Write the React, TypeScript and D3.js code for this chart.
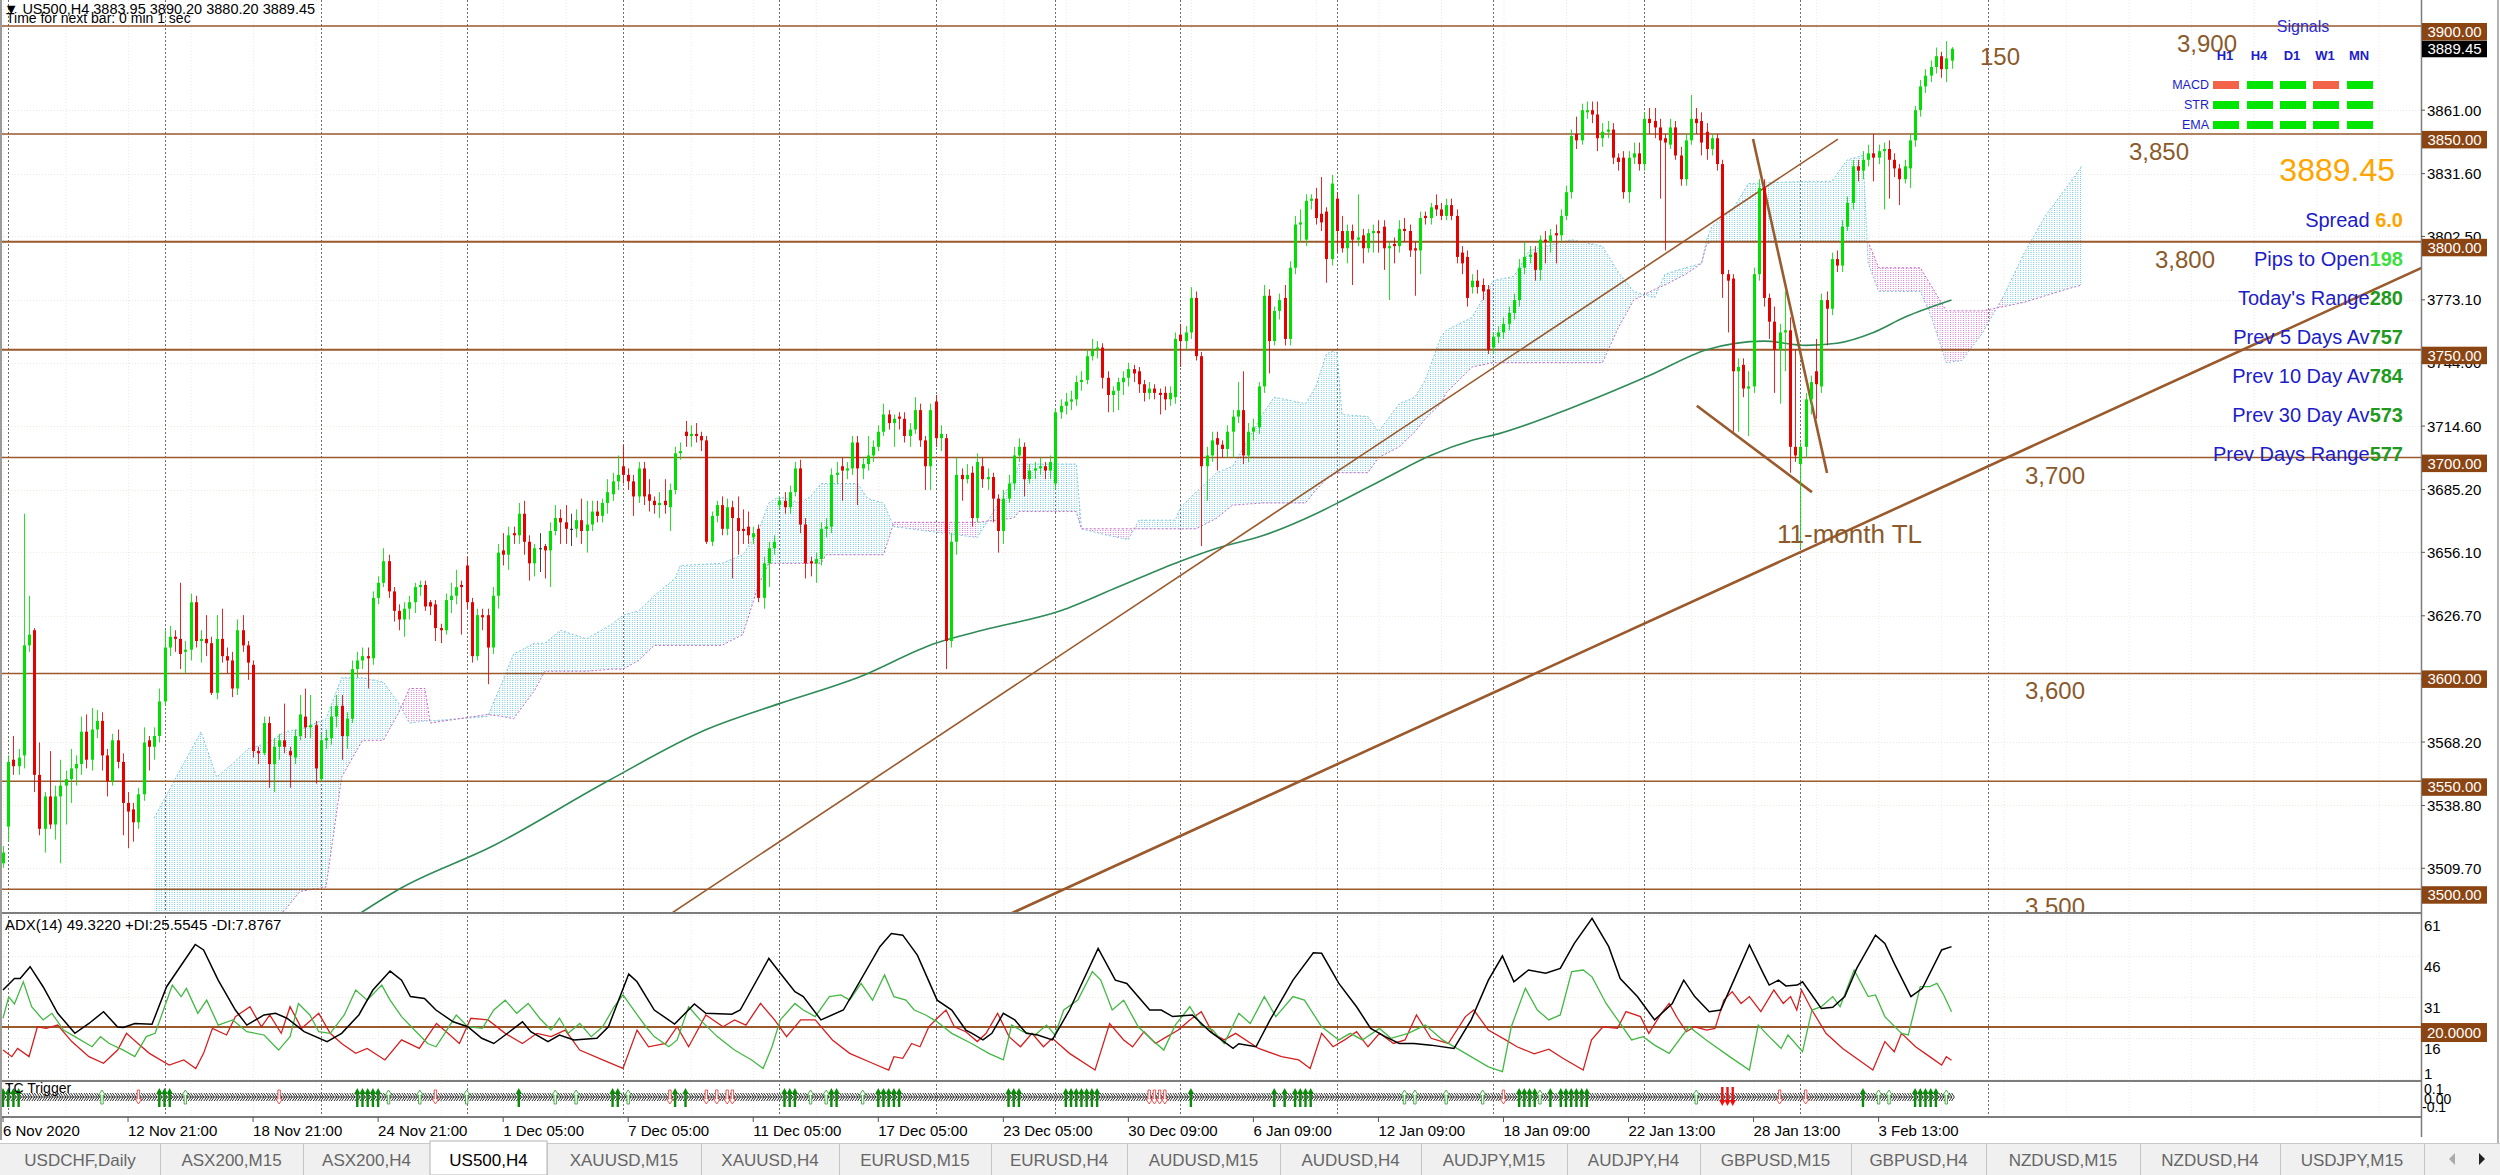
import React from 'react';
import * as d3 from 'd3';

// ---------- DATA ----------
// H4 candles of US500: [open, high, low, close]
const ohlc: number[][] = [
[3512,3520,3510,3517],[3529,3562,3522,3559],[3560,3571,3553,3557],[3557,3565,3553,3561],[3562,3674,3556,3613],
[3613,3636,3610,3618],[3620,3621,3545,3553],[3553,3568,3525,3528],[3528,3545,3517,3543],[3543,3564,3528,3530],
[3530,3548,3523,3543],[3543,3560,3512,3548],[3548,3555,3530,3551],[3551,3565,3540,3556],[3556,3562,3548,3558],
[3558,3580,3553,3573],[3573,3581,3556,3560],[3560,3584,3555,3574],[3574,3583,3570,3578],[3578,3582,3555,3562],
[3562,3565,3543,3550],[3550,3572,3548,3569],[3569,3574,3556,3559],[3559,3563,3525,3540],[3540,3545,3519,3536],
[3537,3540,3522,3531],[3531,3547,3528,3544],[3544,3575,3541,3568],[3569,3571,3555,3566],[3566,3575,3560,3571],
[3571,3593,3568,3587],[3587,3620,3585,3612],[3612,3622,3608,3617],[3617,3620,3610,3616],[3616,3642,3602,3609],
[3610,3615,3600,3611],[3611,3637,3606,3633],[3633,3636,3612,3615],[3615,3620,3605,3616],[3616,3627,3608,3614],
[3614,3617,3590,3591],[3591,3627,3588,3616],[3616,3630,3605,3608],[3608,3612,3600,3606],[3606,3610,3589,3593],
[3593,3625,3590,3620],[3620,3627,3610,3613],[3613,3615,3597,3605],[3604,3606,3561,3564],[3564,3566,3558,3563],
[3563,3580,3562,3577],[3577,3580,3547,3558],[3558,3570,3545,3566],[3566,3572,3560,3569],[3569,3586,3563,3566],
[3564,3566,3547,3562],[3561,3574,3558,3571],[3571,3590,3569,3581],[3580,3593,3570,3575],[3575,3590,3570,3576],
[3576,3578,3549,3556],[3551,3572,3550,3569],[3569,3574,3565,3570],[3570,3585,3567,3580],[3580,3590,3575,3585],
[3585,3590,3560,3571],[3571,3582,3565,3579],[3579,3606,3577,3602],[3602,3610,3598,3606],[3606,3612,3602,3608],
[3608,3612,3593,3607],[3607,3638,3604,3635],[3635,3645,3632,3642],[3642,3658,3640,3652],[3652,3655,3635,3638],
[3638,3640,3624,3629],[3629,3632,3620,3625],[3625,3633,3617,3630],[3630,3636,3625,3633],[3633,3642,3628,3640],
[3640,3643,3636,3641],[3641,3643,3629,3631],[3633,3634,3627,3631],[3632,3634,3615,3621],[3621,3623,3614,3620],
[3620,3637,3618,3634],[3634,3642,3628,3636],[3636,3648,3632,3640],[3641,3643,3618,3640],[3650,3654,3630,3633],
[3633,3635,3605,3608],[3608,3630,3606,3627],[3627,3630,3620,3626],[3627,3630,3595,3612],[3612,3640,3609,3636],
[3636,3660,3630,3656],[3657,3665,3650,3655],[3655,3668,3648,3664],[3665,3668,3660,3664],[3664,3679,3660,3674],
[3674,3680,3655,3661],[3661,3664,3643,3651],[3651,3660,3645,3658],[3658,3665,3647,3658],[3659,3660,3644,3657],
[3657,3670,3640,3666],[3666,3678,3664,3672],[3672,3676,3660,3670],[3670,3678,3660,3667],[3667,3674,3659,3667],
[3667,3676,3663,3671],[3671,3681,3660,3666],[3666,3680,3656,3669],[3669,3680,3666,3675],[3675,3680,3670,3673],
[3673,3681,3670,3679],[3679,3690,3674,3684],[3683,3693,3680,3689],[3689,3701,3685,3692],[3696,3706,3688,3692],
[3692,3695,3685,3689],[3689,3692,3673,3682],[3682,3698,3679,3695],[3695,3698,3678,3682],[3683,3690,3675,3680],
[3680,3682,3674,3678],[3678,3684,3672,3679],[3680,3690,3674,3678],[3677,3688,3666,3685],[3685,3705,3683,3702],
[3702,3707,3699,3703],[3712,3717,3705,3710],[3710,3715,3705,3711],[3711,3716,3707,3710],[3710,3712,3703,3708],
[3708,3710,3660,3661],[3661,3675,3659,3673],[3673,3680,3670,3678],[3678,3682,3664,3667],[3667,3681,3664,3677],
[3677,3680,3644,3672],[3672,3682,3655,3666],[3667,3676,3660,3666],[3668,3675,3660,3664],[3663,3668,3660,3665],
[3667,3669,3633,3635],[3635,3654,3630,3651],[3651,3661,3640,3658],[3658,3664,3655,3661],[3678,3682,3676,3680],
[3680,3684,3674,3677],[3677,3687,3674,3684],[3684,3698,3682,3695],[3695,3699,3665,3669],[3669,3672,3644,3651],
[3652,3654,3645,3651],[3651,3656,3642,3653],[3653,3670,3650,3667],[3667,3672,3663,3668],[3668,3695,3665,3692],
[3692,3698,3688,3693],[3696,3700,3680,3694],[3694,3698,3690,3695],[3695,3710,3692,3707],[3707,3710,3678,3695],
[3695,3700,3690,3697],[3697,3710,3694,3701],[3701,3708,3698,3705],[3705,3715,3703,3712],[3712,3725,3710,3720],
[3720,3722,3713,3716],[3716,3720,3705,3718],[3719,3721,3713,3718],[3718,3721,3707,3710],[3710,3716,3705,3713],
[3713,3728,3711,3722],[3722,3725,3705,3708],[3708,3710,3685,3696],[3696,3725,3685,3722],[3726,3729,3705,3709],
[3709,3715,3703,3711],[3709,3711,3602,3615],[3615,3665,3612,3661],[3661,3700,3655,3692],[3692,3695,3680,3690],
[3690,3697,3688,3692],[3693,3696,3668,3672],[3672,3702,3670,3698],[3696,3700,3686,3690],[3690,3695,3685,3691],
[3691,3693,3670,3681],[3681,3683,3656,3666],[3666,3685,3660,3681],[3681,3692,3679,3688],[3688,3705,3685,3701],
[3701,3709,3698,3705],[3705,3707,3682,3690],[3690,3697,3688,3694],[3694,3698,3690,3695],[3695,3700,3692,3696],
[3696,3698,3690,3694],[3694,3701,3690,3698],[3688,3723,3685,3721],[3721,3727,3718,3724],[3724,3730,3720,3726],
[3726,3731,3722,3727],[3727,3738,3724,3735],[3735,3740,3731,3736],[3736,3750,3734,3747],[3747,3755,3745,3750],
[3750,3754,3746,3751],[3751,3753,3732,3737],[3737,3740,3721,3729],[3729,3733,3721,3731],[3731,3737,3722,3735],
[3735,3740,3729,3737],[3737,3744,3733,3741],[3741,3743,3735,3739],[3740,3742,3730,3734],[3734,3736,3726,3730],
[3730,3735,3727,3732],[3732,3734,3727,3730],[3730,3732,3720,3729],[3730,3733,3722,3727],[3727,3733,3724,3730],
[3728,3758,3725,3755],[3757,3762,3742,3754],[3754,3761,3750,3758],[3758,3779,3755,3774],[3774,3777,3745,3747],
[3747,3749,3659,3696],[3696,3705,3680,3701],[3701,3712,3698,3708],[3709,3712,3694,3706],[3706,3708,3700,3704],
[3704,3715,3700,3712],[3712,3722,3700,3719],[3719,3735,3716,3722],[3722,3740,3697,3701],[3701,3716,3698,3712],
[3712,3718,3708,3714],[3714,3735,3711,3733],[3733,3780,3730,3775],[3775,3778,3739,3754],[3754,3770,3752,3768],
[3768,3776,3764,3773],[3774,3780,3752,3755],[3755,3791,3752,3788],[3788,3812,3785,3808],[3808,3815,3800,3809],
[3801,3822,3798,3819],[3819,3822,3815,3820],[3820,3825,3808,3811],[3813,3830,3805,3809],[3814,3816,3781,3792],
[3792,3831,3789,3827],[3820,3823,3795,3805],[3805,3812,3795,3797],[3797,3808,3790,3805],[3805,3808,3780,3801],
[3801,3822,3798,3802],[3803,3806,3790,3797],[3797,3806,3795,3804],[3804,3808,3795,3805],[3805,3810,3795,3804],
[3807,3810,3787,3797],[3797,3800,3773,3798],[3799,3802,3790,3798],[3798,3810,3795,3806],[3806,3811,3800,3805],
[3805,3808,3793,3796],[3797,3800,3775,3796],[3796,3814,3785,3811],[3812,3814,3808,3811],[3811,3818,3808,3816],
[3817,3822,3812,3815],[3815,3818,3810,3812],[3812,3820,3810,3817],[3817,3820,3810,3812],[3812,3815,3790,3793],
[3795,3798,3785,3790],[3793,3796,3770,3774],[3779,3785,3776,3782],[3782,3787,3776,3779],[3780,3783,3773,3777],
[3778,3780,3748,3750],[3751,3758,3748,3756],[3756,3761,3753,3758],[3758,3765,3755,3762],[3762,3770,3759,3767],
[3767,3776,3764,3773],[3773,3792,3770,3788],[3788,3800,3785,3793],[3793,3798,3790,3794],[3795,3798,3782,3787],
[3787,3803,3782,3801],[3801,3805,3790,3800],[3800,3806,3795,3803],[3804,3808,3790,3803],[3803,3815,3800,3812],
[3812,3826,3810,3823],[3823,3852,3820,3849],[3850,3858,3843,3847],[3847,3864,3845,3861],[3860,3865,3857,3861],
[3861,3865,3855,3859],[3859,3865,3842,3848],[3848,3855,3844,3851],[3851,3856,3848,3852],[3852,3855,3836,3839],
[3839,3841,3833,3837],[3839,3842,3820,3823],[3823,3842,3818,3839],[3839,3846,3836,3841],[3841,3846,3833,3836],
[3836,3860,3833,3857],[3857,3862,3850,3855],[3856,3862,3848,3853],[3853,3857,3820,3847],[3848,3850,3796,3846],
[3845,3857,3843,3853],[3853,3856,3838,3840],[3840,3844,3826,3829],[3829,3850,3826,3847],[3847,3868,3845,3857],
[3857,3862,3850,3855],[3856,3860,3840,3846],[3851,3855,3838,3843],[3843,3850,3840,3848],[3848,3850,3833,3836],
[3836,3838,3774,3785],[3785,3787,3758,3782],[3783,3785,3712,3740],[3740,3746,3712,3742],[3743,3746,3728,3732],
[3732,3740,3710,3733],[3733,3788,3730,3785],[3785,3829,3782,3825],[3825,3829,3770,3774],[3774,3776,3755,3763],
[3763,3770,3730,3750],[3750,3762,3725,3758],[3758,3777,3740,3759],[3759,3765,3693,3705],[3705,3750,3698,3701],
[3697,3707,3658,3705],[3705,3730,3700,3727],[3727,3738,3720,3735],[3740,3755,3718,3734],[3733,3776,3730,3773],
[3773,3777,3752,3769],[3769,3795,3766,3792],[3792,3796,3786,3789],[3789,3810,3786,3807],[3807,3821,3805,3818],
[3818,3838,3815,3835],[3835,3838,3828,3833],[3833,3842,3829,3838],[3838,3845,3835,3841],[3841,3850,3828,3839],
[3839,3845,3836,3842],[3842,3846,3815,3843],[3843,3847,3820,3838],[3838,3841,3830,3834],[3834,3836,3817,3829],
[3829,3838,3827,3835],[3834,3850,3825,3847],[3847,3863,3844,3861],[3861,3875,3858,3872],[3872,3880,3869,3877],
[3877,3884,3874,3881],[3881,3890,3878,3886],[3886,3888,3876,3880],[3880,3893,3874,3885],[3883.95,3890.2,3880.2,3889.45],
];

// long moving average: [bar, price]
const maLine: number[][] = [[68,3488],[76,3500],[94,3520],[116,3550],[135,3574],[149,3586],[164,3598],[179,3614],[188,3620],[203,3629],[214,3640],[226,3652],[233,3658],[242,3664],[252,3674],[257,3680],[265,3690],[274,3701],[282,3708],[287,3711],[301,3723],[316,3738],[327,3750],[338,3754],[346,3752],[352,3753],[359,3758],[365,3765],[374,3773]];

// Ichimoku cloud breakpoints
const cloudBars = [29,38,41,44,47,51,54,57,62,65,69,73,76,78,81,82,93,96,98,102,104,107,112,117,119,122,125,129,130,138,142,145,147,149,153,155,157,158,164,166,169,171,187,194,195,206,207,212,216,218,225,226,229,233,236,242,244,250,252,254,256,257,262,264,268,271,273,276,277,282,286,290,293,301,307,310,313,317,319,323,326,327,328,332,335,346,351,354,357,358,360,368,370,373,376,380,384,388,392,396,399];
const spanA = [3533,3573,3552,3558,3565,3568,3573,3574,3579,3598,3598,3596,3586,3577,3578,3578,3580,3597,3609,3614,3614,3620,3616,3623,3627,3629,3636,3644,3650,3651,3655,3666,3679,3682,3679,3682,3688,3688,3688,3681,3679,3668,3663,3690,3697,3697,3667,3664,3662,3671,3671,3677,3684,3693,3696,3721,3728,3725,3733,3748,3750,3720,3719,3712,3725,3728,3736,3756,3759,3765,3782,3784,3796,3801,3798,3786,3777,3774,3785,3788,3790,3801,3807,3815,3827,3828,3828,3838,3840,3790,3777,3777,3766,3744,3745,3758,3775,3795,3812,3825,3835];
const spanB = [3470,3475,3478,3482,3485,3487,3490,3499,3501,3552,3569,3569,3582,3593,3593,3577,3581,3580,3579,3592,3601,3601,3601,3602,3602,3606,3613,3613,3613,3613,3618,3641,3651,3651,3651,3651,3651,3655,3655,3655,3655,3670,3670,3672,3675,3675,3667,3667,3667,3667,3667,3667,3667,3672,3678,3679,3679,3679,3685,3690,3693,3693,3693,3700,3705,3712,3718,3725,3730,3742,3744,3744,3744,3744,3744,3760,3773,3778,3780,3785,3790,3799,3800,3800,3800,3800,3800,3800,3800,3800,3788,3788,3780,3768,3768,3768,3770,3772,3775,3778,3780];

// ADX(14) indicator: [bar, value]
const adxLine: number[][] = [[0,33.5],[2.2,37.7],[3.3,37.7],[5.2,42],[7.7,34.7],[10.5,25],[13.8,17.7],[16.5,21.3],[19.3,25.6],[22,20],[23.1,19.8],[25.3,21.3],[28.6,21],[31.4,34.7],[36.9,50.1],[38.5,48.1],[41.3,37.1],[44.6,26.2],[46.8,20.7],[50.1,24.4],[52.3,25],[54.5,23.2],[57.8,18.3],[62.2,14.7],[65,17.7],[68.3,24.4],[71,33.5],[74.3,40.4],[76.5,37.1],[78.2,31.1],[80.9,30.4],[83.1,26.2],[86.4,21.9],[89.2,20.1],[91.9,15.9],[94.2,14],[96.4,17.1],[99.7,21.9],[101.3,18.3],[104.6,14.7],[106.8,17.1],[109.6,15.3],[114,15.9],[116.2,20.1],[120.1,39.3],[121.7,36.5],[125,26.2],[128.9,21.1],[132.7,28.4],[134.9,25],[139.9,24.7],[141.5,26.2],[147,45],[149.2,39.6],[152,32.9],[153.6,31.1],[157,22.6],[161.3,26.2],[168.3,49.3],[170.5,54.1],[172.7,53.5],[175.5,46.2],[179.3,29.8],[182.1,26.2],[184.8,18.9],[186,17.7],[188.1,15.3],[189.8,17.7],[192,25],[194.2,22.6],[196.4,17.7],[198.6,17.1],[201.4,15.3],[204.7,26.2],[210.2,48.7],[213.5,37.1],[215.7,35.9],[220.1,26.2],[222.3,26.2],[224.5,23.8],[228.3,24.4],[231.7,18.3],[236.1,12.2],[237.2,13.9],[240.5,12.8],[243.2,22.6],[247.6,37.1],[251.5,47.1],[253.1,46.9],[256.4,35.9],[259.8,27.4],[262.5,19.5],[265.3,16.5],[268,14],[270.8,14],[274.1,13.4],[278.5,12.2],[281.8,22.6],[285.1,37.1],[287.8,45.9],[290,36.5],[292.8,40.8],[296.1,39.6],[298.9,41.4],[301.6,50.5],[305,59.6],[308.2,49.3],[310.4,37.7],[313.7,31.1],[317,22.6],[320.4,28.6],[322.6,37.1],[324.7,31.1],[327.5,25.6],[329.7,26.2],[332.5,38.3],[335.2,49.9],[338,39],[339,35.3],[340.8,37.1],[342.2,35],[344.4,35.3],[345.4,36.5],[349,26.8],[351.2,27.2],[353.5,31.1],[355.8,41.4],[359.4,53.5],[361.2,50.5],[363,43.2],[366.2,31.1],[368.4,34.1],[372.1,48.1],[374,49.32]];
const diPlus: number[][] = [[0,23.2],[1.1,31],[2.2,28.4],[3.9,36.5],[5.5,27.4],[7.7,22.6],[9.4,25],[11.6,18.9],[13.8,16.5],[17.1,12.8],[18.7,16.5],[20.4,14],[23.1,11.6],[25.3,9.2],[27.5,16.5],[29.2,17.7],[30.8,26.2],[32.5,35.3],[34.2,31.1],[35.2,34.1],[37.4,25],[39.1,29.8],[41.3,20.7],[44.1,22.6],[46.8,18.3],[50.1,17.1],[52.9,11.6],[55.1,16.5],[56.7,28.6],[58.9,24.4],[60.6,18.3],[62.8,17.7],[65.5,24.4],[67.7,33.5],[69.9,29.8],[72.7,35.3],[74.3,29.8],[76.5,23.8],[79.3,18.3],[81.5,14],[83.1,12.8],[84.8,17.7],[87,24.4],[89.2,20.1],[92,19.5],[94.2,26.2],[96.4,29.8],[98.6,25],[100.8,28.6],[103,23.2],[105.2,18.9],[106.8,23.2],[108.5,17.7],[110.7,21.3],[112.9,16.5],[115.1,20.1],[117.3,27.4],[119,31.7],[120.6,27.4],[123.4,20.1],[125,16.5],[127.8,12.8],[129.4,15.3],[131.6,27.4],[133.8,22.6],[137.1,16.5],[140.4,11.6],[143.7,8],[145.9,4.9],[147.6,12.8],[149.2,22.6],[152,28.6],[153.6,26.2],[155.9,23.8],[158.6,31.1],[160.8,31.7],[162.5,29.8],[164.7,35.9],[166.9,29.8],[169.2,39],[171,31.1],[173.3,29.8],[174.9,26.2],[177.1,24.4],[179.3,21.9],[182.1,17.7],[185.9,14],[189.2,10.4],[192,8],[193.6,20.7],[195.8,18.3],[198.1,17.1],[200.3,20.7],[201.9,17.1],[203.6,26.2],[206.3,29.8],[209.1,40.2],[210.7,37.1],[212.9,26.2],[215.1,29.8],[217.9,20.1],[220.6,15.3],[222.8,11.6],[225,20.7],[227.8,27.4],[230,20.7],[232.2,18.9],[234.4,14],[237.2,25],[239.4,21.3],[242.1,31.1],[244.3,23.8],[247.6,31.1],[249.8,29.8],[253.1,20.1],[256.4,15.3],[258.6,17.7],[260.9,15.3],[264.2,19.5],[266.4,15.9],[269.7,17.7],[273,20.7],[276.3,15.3],[280.7,10.4],[285.1,5.5],[287.8,3.7],[289.5,20.1],[292.2,34.1],[294.5,26.2],[296.7,22.6],[298.9,24.4],[301.1,40.2],[303.3,40.8],[305,38.3],[307.7,28.6],[310.4,21.3],[312.6,15.3],[314.8,16.5],[317,13.4],[319.8,10.4],[323.6,20.1],[326.9,15.3],[331.4,9.2],[335.2,4.3],[336.9,20.7],[339,16.5],[341.3,12.2],[342.6,17.1],[345.4,11],[347.2,26.2],[349,27.4],[351.2,31.1],[352.6,27.4],[355.3,40.8],[358,31.1],[359.4,31.7],[361.2,23.8],[364.4,17.7],[365.7,17.1],[368,34.7],[369.8,34.7],[371.2,35.9],[372.5,31.7],[374,25.55]];
const diMinus: number[][] = [[0,11.6],[1.7,9.2],[2.8,12.2],[5,9.2],[6.6,20.1],[8.3,19.5],[10.5,20.7],[13.2,14.7],[16.5,9.2],[19.3,6.8],[22,11.6],[23.7,17.7],[25.9,14],[28.1,10.4],[31.9,6.1],[34.7,8],[37,4.9],[38.5,10.4],[40.2,19.5],[42.9,17.1],[44.6,23.8],[47.4,27.4],[49.6,20.1],[51.2,24.4],[53.4,17.7],[55.1,27.4],[57.3,19.5],[60.6,25],[62.8,17.7],[65,14],[67.7,10.4],[69.9,12.2],[73.3,8],[76.5,15.3],[79.9,12.2],[83.2,21.3],[85.4,17.7],[87.6,14],[89.8,23.2],[93.1,22.6],[96.4,17.7],[99.7,14],[102.5,17.7],[105.2,16.5],[107.9,18.9],[110.7,11.6],[115.1,8],[119,4.9],[121.7,18.9],[123.9,12.8],[127.2,14],[129.4,20.1],[131.6,12.8],[134.9,24.4],[138.2,20.1],[140.4,22.6],[142.6,20.7],[145.4,28.6],[148.1,22.6],[150.4,16.5],[153.1,22.6],[155.9,22.6],[159.2,15.3],[162.5,10.4],[166.9,6.8],[170,4.3],[171,9.2],[172.7,8.6],[174.4,14],[176,12.8],[177.7,20.1],[179.3,23.2],[181,26.2],[182.6,20.1],[184.8,18.3],[187,14.7],[188.7,17.7],[190.9,25],[193.1,16.5],[195.3,12.8],[197.5,17.7],[199.7,12.8],[201.4,15.9],[204.7,10.4],[209.6,4.3],[212.4,21.3],[215.1,15.3],[216.8,12.8],[219,18.3],[221.2,14],[223.4,16.5],[225.6,18.9],[227.8,22.6],[230,25.6],[232.2,17.7],[234.4,15.3],[236.6,17.7],[241,12.2],[245.4,9.2],[248.7,8],[250.9,4.9],[253.1,17.7],[255.3,12.8],[257.5,15.3],[259.8,18.3],[262,12.8],[264.2,17.7],[266.9,14],[269.1,15.3],[271.3,24.4],[274.1,15.9],[277.4,14],[280.7,23.8],[282.3,26.2],[285.1,18.9],[288.4,15.3],[290.6,12.8],[293.9,10.2],[296.7,11.9],[299.4,8.6],[303.3,4.3],[304.9,15.3],[307.1,20.1],[309.9,19.5],[311.5,25.6],[314.3,23.8],[315.9,17.7],[318.3,25],[319.8,28.6],[321.4,23.2],[323.1,18.3],[324.7,20.1],[327,18.9],[328.6,19.5],[330.3,29.8],[331.9,32.9],[333.6,28.6],[335.2,31.1],[337.4,25.6],[339.9,33.5],[341.7,28.6],[343.1,31.1],[344.3,26.2],[345.2,33.5],[347.2,26.2],[349.9,17.7],[353.1,12.2],[356.2,8],[358.9,4.3],[361.2,14.7],[363,11],[364.4,17.7],[367.1,12.8],[369.8,9.2],[372.1,6.1],[373,9.2],[374,7.88]];

// TC Trigger signals (bar indices)
const tcUpFilled = [0,1,2,3,30,31,32,68,69,70,71,72,99,117,118,129,131,150,151,152,159,160,168,169,170,171,172,193,194,195,204,205,206,207,208,209,210,228,244,246,248,249,250,251,291,292,293,294,297,299,300,301,302,303,304,357,367,368,369,370,371];
const tcUpHollow = [19,35,74,80,89,106,110,120,155,158,165,269,271,277,284,295,325,360,362,373];
const tcDownHollow = [26,53,83,128,135,137,139,140,220,221,222,223,288,341,346];
const tcDownFilled = [330,331,332];

// horizontal levels and trendlines
const levelPrices = [3900, 3850, 3800, 3750, 3700, 3600, 3550, 3500];
const levelNames = ['3,900', '3,850', '3,800', '3,700', '3,600', '3,500'];
const levelNamePrices = [3900, 3850, 3800, 3700, 3600, 3500];
const trendUpper = [[128.4, 3489], [352.2, 3847.6]];
const trendLong = [[193.7, 3489], [375.6, 3690]];
const wedgeSteep = [[335.9, 3847.6], [350.1, 3692.9]];
const wedgeFlat = [[325.1, 3724], [347.2, 3684]];

const priceTicks = [3861.0, 3831.6, 3802.5, 3773.1, 3744.0, 3714.6, 3685.2, 3656.1, 3626.7, 3597.3, 3568.2, 3538.8, 3509.7];
const adxTicks = [61, 46, 31, 16, 1];
const timeLabels = ['6 Nov 2020','12 Nov 21:00','18 Nov 21:00','24 Nov 21:00','1 Dec 05:00','7 Dec 05:00','11 Dec 05:00','17 Dec 05:00','23 Dec 05:00','30 Dec 09:00','6 Jan 09:00','12 Jan 09:00','18 Jan 09:00','22 Jan 13:00','28 Jan 13:00','3 Feb 13:00'];
const weekStarts = [1, 31, 61, 89, 119, 149, 179, 202, 226, 256, 286, 315, 345, 381];
const tabNames = ['USDCHF,Daily','ASX200,M15','ASX200,H4','US500,H4','XAUUSD,M15','XAUUSD,H4','EURUSD,M15','EURUSD,H4','AUDUSD,M15','AUDUSD,H4','AUDJPY,M15','AUDJPY,H4','GBPUSD,M15','GBPUSD,H4','NZDUSD,M15','NZDUSD,H4','USDJPY,M15'];
const signalCols = ['H1', 'H4', 'D1', 'W1', 'MN'];
const signalRows = ['MACD', 'STR', 'EMA'];
const signalStates = [[0, 1, 1, 0, 1], [1, 1, 1, 1, 1], [1, 1, 1, 1, 1]];
const infoLabels = ['Spread ', 'Pips to Open', "Today's Range", 'Prev 5 Days Av', 'Prev 10 Day Av', 'Prev 30 Day Av', 'Prev Days Range'];
const infoValues = ['6.0', '198', '280', '757', '784', '573', '577'];
const lastPrice = 3889.45;

// ---------- LAYOUT ----------
const FONT = 'Liberation Sans, Arial, sans-serif';
const AXIS_X = 2421;
const P_TOP = 0, P_BOT = 913, A_BOT = 1081, T_BOT = 1117;
const BROWN = '#9a5a2c';
const BOX = '#8b4513';

export default function App() {
  const xB = d3.scaleLinear().domain([0, 400]).range([3, 3 + 5.21 * 400]);
  const yP = d3.scaleLinear().domain([3488.98, 3912.05]).range([P_BOT, P_TOP]);
  const yA = d3.scaleLinear().domain([0.32, 61.58]).range([A_BOT, P_BOT]);

  const lineP = d3.line<number[]>().x(d => xB(d[0])).y(d => yP(d[1]));
  const lineA = d3.line<number[]>().x(d => xB(d[0])).y(d => yA(d[1]));
  const maPath = d3.line<number[]>().x(d => xB(d[0])).y(d => yP(d[1])).curve(d3.curveMonotoneX)(maLine) || '';

  const cloudSegs = [] as { d: string; up: boolean }[];
  for (let i = 0; i < cloudBars.length - 1; i++) {
    const pts = [0, 1].map(k => ({ b: cloudBars[i + k], a: spanA[i + k], s: spanB[i + k] }));
    const area = d3.area<any>().x(d => xB(d.b)).y0(d => yP(d.s)).y1(d => yP(d.a));
    cloudSegs.push({ d: area(pts) || '', up: pts[0].a + pts[1].a >= pts[0].s + pts[1].s });
  }
  const spanAPath = d3.line<number>().x((_, i) => xB(cloudBars[i])).y(d => yP(d))(spanA) || '';
  const spanBPath = d3.line<number>().x((_, i) => xB(cloudBars[i])).y(d => yP(d))(spanB) || '';

  const extend = (seg: number[][], b0: number, b1: number) => {
    const slope = (seg[1][1] - seg[0][1]) / (seg[1][0] - seg[0][0]);
    return [[b0, seg[0][1] + slope * (b0 - seg[0][0])], [b1, seg[0][1] + slope * (b1 - seg[0][0])]];
  };

  const gridBars = d3.range(0, 470, 12).filter(b => xB(b) < AXIS_X);
  const tcY = 1097;

  const upArrow = (x: number, filled: boolean, color: string) => filled
    ? <g key={'u' + x}><line x1={x} y1={1107} x2={x} y2={1092} stroke={color} strokeWidth={2.4} /><path d={`M${x - 3.2},${1094}L${x},${1088}L${x + 3.2},${1094}Z`} fill={color} /></g>
    : <g key={'uh' + x}><path d={`M${x - 1.2},${1104}L${x - 1.2},${1095}L${x - 3.2},${1095}L${x},${1090}L${x + 3.2},${1095}L${x + 1.2},${1095}L${x + 1.2},${1104}Z`} fill="#fff" stroke={color} strokeWidth={0.9} /></g>;
  const downArrow = (x: number, filled: boolean, color: string) => filled
    ? <g key={'d' + x}><line x1={x} y1={1087} x2={x} y2={1102} stroke={color} strokeWidth={2.4} /><path d={`M${x - 3.2},${1100}L${x},${1106}L${x + 3.2},${1100}Z`} fill={color} /></g>
    : <g key={'dh' + x}><path d={`M${x - 1.2},${1090}L${x - 1.2},${1099}L${x - 3.2},${1099}L${x},${1104}L${x + 3.2},${1099}L${x + 1.2},${1099}L${x + 1.2},${1090}Z`} fill="#fff" stroke={color} strokeWidth={0.9} /></g>;

  const tabEdges = [0, 160, 303, 430, 547, 701, 839, 991, 1127, 1280, 1421, 1567, 1700, 1851, 1986, 2140, 2280, 2424];
  const levelNameX = [2177, 2129, 2155, 2025, 2025, 2025];
  const sigX = [2213, 2247, 2280, 2313, 2347];
  const sigY = [81, 101, 121];
  const infoY = [220, 259, 298, 337, 376, 415, 454];

  return (
    <svg width={2500} height={1175} style={{ position: 'absolute', left: 0, top: 0, display: 'block', background: '#fff' }} fontFamily={FONT}>
      <defs>
        <clipPath id="cpP"><rect x={0} y={P_TOP} width={AXIS_X} height={P_BOT - P_TOP} /></clipPath>
        <clipPath id="cpA"><rect x={0} y={P_BOT} width={AXIS_X} height={A_BOT - P_BOT} /></clipPath>
        <pattern id="hBlue" width={2.6} height={2} patternUnits="userSpaceOnUse"><rect x={0} y={0} width={1} height={1} fill="#7cc8df" /></pattern>
        <pattern id="hPink" width={2.6} height={2} patternUnits="userSpaceOnUse"><rect x={0} y={0} width={1} height={1} fill="#d07ed0" /></pattern>
      </defs>
      <rect x={0} y={0} width={2500} height={1175} fill="#fff" />

      {/* faint grid */}
      <g stroke="#efe9e2" strokeWidth={1} strokeDasharray="1,2">
        {gridBars.map(b => <line key={'g' + b} x1={xB(b) + 0.5} x2={xB(b) + 0.5} y1={0} y2={T_BOT} />)}
        {priceTicks.map(p => <line key={'gp' + p} x1={0} x2={AXIS_X} y1={Math.round(yP(p)) + 0.5} y2={Math.round(yP(p)) + 0.5} />)}
        {adxTicks.map(v => <line key={'ga' + v} x1={0} x2={AXIS_X} y1={Math.round(yA(v)) + 0.5} y2={Math.round(yA(v)) + 0.5} />)}
      </g>

      {/* week separators */}
      <g stroke="#6e6e6e" strokeWidth={1} strokeDasharray="2,2">
        {weekStarts.map(b => <line key={'w' + b} x1={Math.round(xB(b)) + 0.5} x2={Math.round(xB(b)) + 0.5} y1={0} y2={T_BOT} />)}
      </g>

      {/* price panel */}
      <g clipPath="url(#cpP)">
        {cloudSegs.map((s, i) => <path key={'c' + i} d={s.d} fill={s.up ? 'url(#hBlue)' : 'url(#hPink)'} />)}
        <path d={spanAPath} fill="none" stroke="#7cc8df" strokeWidth={1} strokeDasharray="2,2" />
        <path d={spanBPath} fill="none" stroke="#c46ac4" strokeWidth={1} strokeDasharray="2,2" />

        {levelPrices.map(p => <line key={'l' + p} x1={0} x2={AXIS_X} y1={yP(p)} y2={yP(p)} stroke={BROWN} strokeWidth={p === 3750 || p === 3800 ? 2 : 1.5} />)}

        <path d={maPath} fill="none" stroke="#2e8b57" strokeWidth={1.6} />

        <path d={lineP(trendUpper) || ''} fill="none" stroke={BROWN} strokeWidth={1.6} />
        <path d={lineP(extend(trendLong, 193.7, 470)) || ''} fill="none" stroke={BROWN} strokeWidth={2.6} />
        <path d={lineP(wedgeSteep) || ''} fill="none" stroke={BROWN} strokeWidth={2.6} />
        <path d={lineP(wedgeFlat) || ''} fill="none" stroke={BROWN} strokeWidth={2.6} />

        {ohlc.map((c, i) => {
          const [o, h, l, cl] = c;
          const x = Math.round(xB(i));
          const up = cl > o, doji = cl === o;
          const col = doji ? '#222' : up ? '#00e000' : '#e60000';
          const top = yP(Math.max(o, cl)), bot = yP(Math.min(o, cl));
          return (
            <g key={'k' + i}>
              <line x1={x + 0.5} x2={x + 0.5} y1={yP(Math.max(h, o, cl))} y2={yP(Math.min(l, o, cl))} stroke={col} strokeWidth={1} opacity={0.85} />
              <rect x={x - 1} y={top} width={3} height={Math.max(1, bot - top)} fill={col} />
            </g>
          );
        })}

        {levelNames.map((t, i) => <text key={'ln' + i} x={levelNameX[i]} y={yP(levelNamePrices[i]) + 26} fontSize={24} fill="#8b5a2b">{t}</text>)}
        <text x={1980} y={65} fontSize={24} fill="#8b5a2b">150</text>
        <text x={1777} y={543} fontSize={26} fill="#8b5a2b">11-month TL</text>

        {/* signals panel */}
        <text x={2303} y={32} fontSize={16} fill="#2a2ad0" textAnchor="middle">Signals</text>
        {signalCols.map((s, i) => <text key={'sc' + s} x={sigX[i] + 12} y={60} fontSize={13} fontWeight="bold" fill="#1c1cc8" textAnchor="middle">{s}</text>)}
        {signalRows.map((r, j) => <text key={'sr' + r} x={2209} y={sigY[j] + 8} fontSize={12.5} fill="#1c1cc8" textAnchor="end">{r}</text>)}
        {signalStates.map((row, j) => row.map((st, i) => <rect key={'sb' + j + i} x={sigX[i]} y={sigY[j]} width={26} height={8} fill={st ? '#00e600' : '#f2634a'} />))}

        <text x={2395} y={181} fontSize={32} fill="#ffa500" textAnchor="end">{lastPrice.toFixed(2)}</text>
        {infoLabels.map((t, i) => (
          <text key={'inf' + i} x={2403} y={infoY[i] + 7} fontSize={20} textAnchor="end">
            <tspan fill="#1c1cc8">{t}</tspan>
            <tspan fill={i === 0 ? '#ffa500' : i === 1 ? '#3ce03c' : '#1f9a1f'} fontWeight="bold">{infoValues[i]}</tspan>
          </text>
        ))}
      </g>

      {/* ADX panel */}
      <g clipPath="url(#cpA)">
        <line x1={0} x2={AXIS_X} y1={yA(20)} y2={yA(20)} stroke={BROWN} strokeWidth={2} />
        <path d={lineA(diMinus) || ''} fill="none" stroke="#d42020" strokeWidth={1.3} />
        <path d={lineA(diPlus) || ''} fill="none" stroke="#44b844" strokeWidth={1.3} />
        <path d={lineA(adxLine) || ''} fill="none" stroke="#000" strokeWidth={1.5} />
      </g>
      <text x={5} y={930} fontSize={15} fill="#000">ADX(14) 49.3220 +DI:25.5545 -DI:7.8767</text>

      {/* TC trigger panel */}
      <g>
        <line x1={xB(0)} x2={xB(374)} y1={tcY} y2={tcY} stroke="#555" strokeWidth={1} />
        {ohlc.map((_, i) => {
          const x = xB(i);
          return <path key={'ch' + i} d={`M${x - 2.4},${tcY - 4}L${x + 0.4},${tcY}L${x - 2.4},${tcY + 4}M${x},${tcY - 4}L${x + 2.8},${tcY}L${x},${tcY + 4}`} fill="none" stroke="#2e2e2e" strokeWidth={1} />;
        })}
        {tcUpHollow.map(b => upArrow(xB(b), false, '#3aa83a'))}
        {tcDownHollow.map(b => downArrow(xB(b), false, '#e04848'))}
        {tcUpFilled.map(b => upArrow(xB(b), true, '#0d8a0d'))}
        {tcDownFilled.map(b => downArrow(xB(b), true, '#ee1111'))}
        <text x={5} y={1093} fontSize={14} fill="#000">TC Trigger</text>
      </g>

      {/* panel separators and frame */}
      <g stroke="#7d7d7d" strokeWidth={2}>
        <line x1={0} x2={AXIS_X} y1={P_BOT} y2={P_BOT} />
        <line x1={0} x2={AXIS_X} y1={A_BOT} y2={A_BOT} />
        <line x1={0} x2={AXIS_X} y1={T_BOT} y2={T_BOT} />
      </g>
      <line x1={AXIS_X + 0.5} x2={AXIS_X + 0.5} y1={0} y2={T_BOT + 20} stroke="#7d7d7d" strokeWidth={1.5} />
      <line x1={1} x2={1} y1={0} y2={1140} stroke="#9a9a9a" strokeWidth={2} />
      <line x1={2498} x2={2498} y1={0} y2={1143} stroke="#9a9a9a" strokeWidth={1.5} />

      {/* header */}
      <text x={4} y={14} fontSize={14.5} fill="#000">▼ US500,H4  3883.95 3890.20 3880.20 3889.45</text>
      <text x={6} y={23} fontSize={14} fill="#000">Time for next bar: 0 min 1 sec</text>

      {/* price axis */}
      <g fontSize={15} fill="#000">
        {priceTicks.map(p => (
          <g key={'pt' + p}>
            <line x1={AXIS_X} x2={AXIS_X + 4} y1={yP(p)} y2={yP(p)} stroke="#555" />
            <text x={2427} y={yP(p) + 5.5}>{p.toFixed(2)}</text>
          </g>
        ))}
      </g>
      {levelPrices.map(p => (
        <g key={'bx' + p}>
          <rect x={2422} y={yP(p) - 3} width={65} height={17.5} fill={BOX} />
          <text x={2454.5} y={yP(p) + 11} fontSize={15} fill="#fff" textAnchor="middle">{p.toFixed(2)}</text>
        </g>
      ))}
      <rect x={2422} y={yP(lastPrice) - 8} width={65} height={16.5} fill="#000" />
      <text x={2454.5} y={yP(lastPrice) + 5.5} fontSize={15} fill="#fff" textAnchor="middle">{lastPrice.toFixed(2)}</text>

      {/* ADX axis */}
      {adxTicks.map(v => <text key={'at' + v} x={2424} y={Math.min(yA(v) + 16, 1079)} fontSize={15} fill="#000">{v}</text>)}
      <rect x={2421} y={yA(20) - 4} width={66} height={19} fill={BOX} />
      <text x={2454} y={yA(20) + 11} fontSize={15} fill="#fff" textAnchor="middle">20.0000</text>
      <g fontSize={14} fill="#000">
        <text x={2424} y={1094}>0.1</text>
        <text x={2424} y={1104}>0.00</text>
        <text x={2422} y={1112}>-0.1</text>
      </g>

      {/* time axis */}
      {timeLabels.map((t, k) => (
        <g key={'tl' + k}>
          <line x1={xB(k * 24)} x2={xB(k * 24)} y1={T_BOT} y2={T_BOT + 5} stroke="#555" />
          <text x={xB(k * 24)} y={1136} fontSize={15} fill="#000">{t}</text>
        </g>
      ))}

      {/* tabs */}
      <rect x={0} y={1143} width={2500} height={32} fill="#f0f0f0" />
      <line x1={0} x2={2500} y1={1143.5} y2={1143.5} stroke="#c8c8c8" />
      {tabNames.map((t, i) => {
        const active = t === 'US500,H4';
        return (
          <g key={'tab' + i}>
            {active && <rect x={tabEdges[i]} y={1141} width={tabEdges[i + 1] - tabEdges[i]} height={34} fill="#fff" stroke="#b4b4b4" />}
            <line x1={tabEdges[i + 1] + 0.5} x2={tabEdges[i + 1] + 0.5} y1={1144} y2={1175} stroke="#c4c4c4" />
            <text x={(tabEdges[i] + tabEdges[i + 1]) / 2} y={1166} fontSize={17} fill={active ? '#000' : '#666'} textAnchor="middle">{t}</text>
          </g>
        );
      })}
      <path d="M2455,1153L2449,1159L2455,1165Z" fill="#aaa" />
      <path d="M2479,1153L2485,1159L2479,1165Z" fill="#222" />
    </svg>
  );
}
